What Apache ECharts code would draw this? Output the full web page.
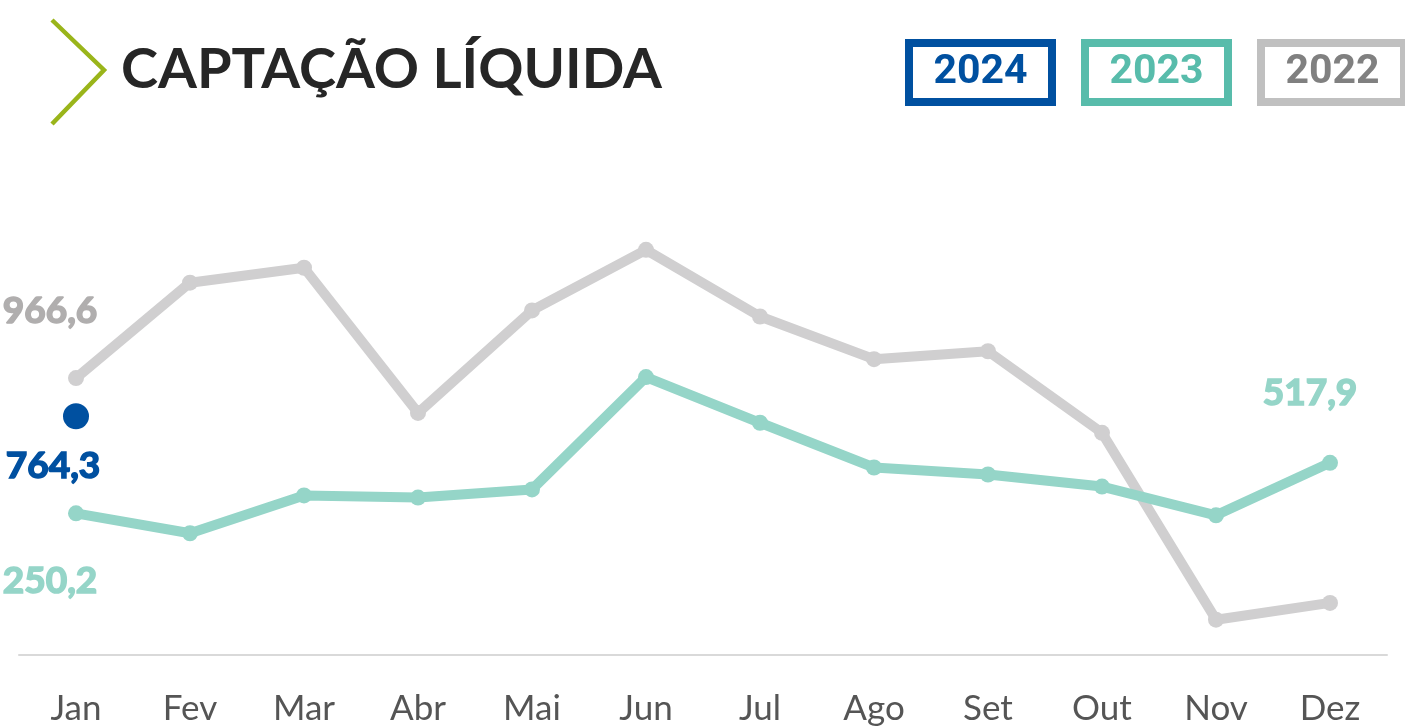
<!DOCTYPE html>
<html>
<head>
<meta charset="utf-8">
<script src="https://cdn.jsdelivr.net/npm/echarts@6/dist/echarts.min.js"></script>
<style>
  html, body { margin: 0; padding: 0; background: #fff; }
  #chart { width: 1405px; height: 726px; }
</style>
</head>
<body>
<div id="chart"></div>
<script>
const months = ['Jan', 'Fev', 'Mar', 'Abr', 'Mai', 'Jun', 'Jul', 'Ago', 'Set', 'Out', 'Nov', 'Dez']
const values2022 = [966.6, 1472, 1551, 782, 1325, 1646, 1293, 1067, 1109, 677, -313, -224]
const values2023 = [250.2, 145, 345, 334, 377, 972, 730, 493, 456, 392, 240, 517.9]
const values2024 = [764.3]
const legendYears = ['2024', '2023', '2022']

const chart = echarts.init(document.getElementById('chart'))

const fmt = v => v.toFixed(1).replace('.', ',')

// label only on the chosen points
const withLabels = (values, color, labels) => values.map((v, i) => {
  if (!labels[i]) return v
  return {
    value: v,
    label: {
      show: true,
      position: 'inside',
      offset: labels[i],
      formatter: p => fmt(p.value),
      color: color,
      fontFamily: 'Lato',
      fontWeight: 'bold',
      fontSize: 37,
      textBorderColor: color,
      textBorderWidth: 1.6
    }
  }
})

const legendColors = [
  { border: '#0050a0', text: '#0050a0' },
  { border: '#58bcab', text: '#58bcab' },
  { border: '#c0c0c0', text: '#808080' }
]
const legendX = [909, 1085, 1261]

const graphics = [
  {
    type: 'polyline',
    shape: { points: [[52, 20], [104, 70], [52, 124]] },
    style: { stroke: '#9ab51a', lineWidth: 4.5, fill: null }
  },
  {
    type: 'text',
    left: 121,
    top: 42,
    style: {
      text: 'CAPTAÇÃO LÍQUIDA',
      fill: '#262626',
      font: 'bold 56px Lato'
    }
  }
]
legendYears.forEach((year, i) => {
  graphics.push({
    type: 'rect',
    shape: { x: legendX[i], y: 43, width: 143, height: 59 },
    style: { stroke: legendColors[i].border, lineWidth: 8, fill: '#fff' }
  })
  graphics.push({
    type: 'text',
    x: legendX[i] + 71.5,
    y: 73,
    style: {
      text: year,
      fill: legendColors[i].text,
      font: 'bold 41px Roboto',
      align: 'center',
      verticalAlign: 'middle'
    }
  })
})

const option = {
  backgroundColor: '#fff',
  animation: false,
  graphic: graphics,
  grid: {
    left: 19,
    right: 18,
    top: 183,
    height: 474
  },
  xAxis: {
    type: 'category',
    data: months,
    boundaryGap: true,
    axisLine: { onZero: false, lineStyle: { color: '#d9d9d9', width: 2 } },
    axisTick: { show: false },
    axisLabel: {
      color: '#555',
      fontFamily: 'Lato',
      fontSize: 35,
      margin: 36
    }
  },
  yAxis: {
    type: 'value',
    min: -500,
    max: 2000,
    show: false,
    splitLine: { show: false }
  },
  series: [
    {
      name: '2022',
      type: 'line',
      data: withLabels(values2022, '#b0aeae', { 0: [-26, -67] }),
      symbol: 'circle',
      symbolSize: 16,
      lineStyle: { color: '#d0cfd0', width: 10 },
      itemStyle: { color: '#d0cfd0' },
      z: 2
    },
    {
      name: '2023',
      type: 'line',
      data: withLabels(values2023, '#95d5c8', { 0: [-26, 68], 11: [-20, -70] }),
      symbol: 'circle',
      symbolSize: 16,
      lineStyle: { color: '#95d5c8', width: 10 },
      itemStyle: { color: '#95d5c8' },
      z: 3
    },
    {
      name: '2024',
      type: 'line',
      data: withLabels(values2024, '#0050a0', { 0: [-23, 50] }),
      symbol: 'circle',
      symbolSize: 26,
      lineStyle: { color: '#0050a0', width: 10 },
      itemStyle: { color: '#0050a0' },
      z: 4
    }
  ]
}

chart.setOption(option)
window.addEventListener('resize', () => chart.resize())
</script>
</body>
</html>
